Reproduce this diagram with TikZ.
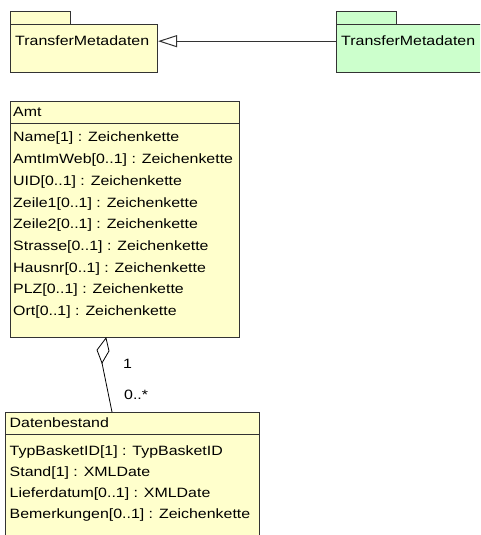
\documentclass[tikz,border=0pt]{standalone}
\usepackage{fontspec}
\setmainfont{Liberation Sans}[FakeStretch=1.18]
\usepackage{tikz}
\usetikzlibrary{arrows.meta}
\definecolor{umlyellow}{RGB}{255,255,204}
\definecolor{umlgreen}{RGB}{204,255,204}
\definecolor{umlline}{RGB}{51,51,51}
\tikzset{>=latex}
\tikzstyle{box} = [rectangle, draw = umlline, line width = 1pt, inner sep = 0, anchor = north west]
\tikzstyle{txt} = [draw = none, inner sep = 0, anchor = base west, font = \fontsize{13.5}{16}\selectfont]
\tikzstyle{sep} = [draw = umlline, line width = 1pt]
\tikzstyle{gen} = [-{Triangle[open, length = 19pt, width = 12pt]}, draw = umlline, line width = 1pt]
\tikzstyle{assoc} = [-, draw = black, line width = 0.8pt]

\begin{document}
\begin{tikzpicture}[x = 1pt, y = -1pt]
\useasboundingbox (0, 0) rectangle (480, 535);
\clip (0, 0) rectangle (480, 535);
% packages
\node [box, fill = umlyellow, minimum width = 60, minimum height = 13] (tabL) at (10, 11) {};
\node [box, fill = umlyellow, minimum width = 147, minimum height = 48] (pkgL) at (10, 24) {};
\node [txt] (nameL) at (15, 46) {TransferMetadaten};
\node [box, fill = umlgreen, minimum width = 60, minimum height = 13] (tabR) at (336, 11) {};
\node [box, fill = umlgreen, minimum width = 150, minimum height = 48] (pkgR) at (336, 24) {};
\node [txt] (nameR) at (341, 46) {TransferMetadaten};
\draw [gen] (pkgR.west |- nameR) to (pkgL.east |- nameL);
% class Amt
\node [box, fill = umlyellow, minimum width = 229, minimum height = 236] (amt) at (10, 101) {};
\draw [sep] (10, 123.5) -- (239, 123.5);
\node [txt] (amthead) at (13, 116) {Amt};
\foreach \attr [count = \i] in {{Name[1] : Zeichenkette}, {AmtImWeb[0..1] : Zeichenkette},
  {UID[0..1] : Zeichenkette}, {Zeile1[0..1] : Zeichenkette}, {Zeile2[0..1] : Zeichenkette},
  {Strasse[0..1] : Zeichenkette}, {Hausnr[0..1] : Zeichenkette}, {PLZ[0..1] : Zeichenkette},
  {Ort[0..1] : Zeichenkette}}
  \node [txt] (amtattr\i) at (13, 120.2 + 21.7*\i) {\attr};
% class Datenbestand
\node [box, fill = umlyellow, minimum width = 254, minimum height = 140] (dat) at (5, 412) {};
\draw [sep] (5, 434) -- (259, 434);
\node [txt] (dathead) at (9.5, 427) {Datenbestand};
\foreach \attr [count = \i] in {{TypBasketID[1] : TypBasketID}, {Stand[1] : XMLDate},
  {Lieferdatum[0..1] : XMLDate}, {Bemerkungen[0..1] : Zeichenkette}}
  \node [txt] (datattr\i) at (9.5, 433.7 + 21.3*\i) {\attr};
% aggregation
\coordinate (aggT) at (amt.south -| 106, 0);
\coordinate (aggR) at (109, 351);
\coordinate (aggB) at (102, 363);
\coordinate (aggL) at (97, 350);
\coordinate (aggS) at (dat.north -| 112, 0);
\draw [assoc] (aggT) -- (aggR) -- (aggB) -- (aggL) -- cycle;
\draw [assoc] (aggB) to (aggS);
\node [txt] (mult1) at (123, 368) {1};
\node [txt] (mult2) at (124, 399) {0..*};
\end{tikzpicture}
\end{document}
